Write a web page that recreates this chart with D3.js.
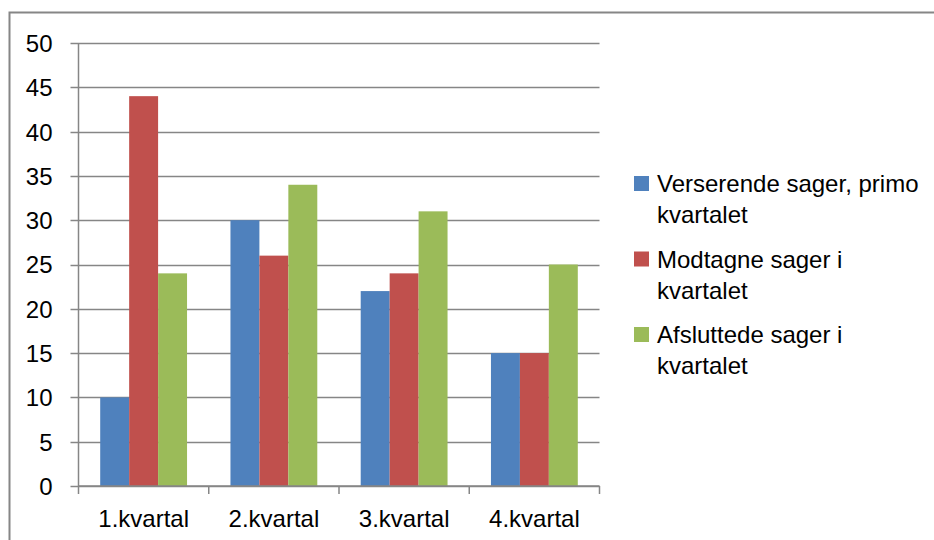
<!DOCTYPE html>
<html>
<head>
<meta charset="utf-8">
<script src="https://cdn.jsdelivr.net/npm/d3@7"></script>
<style>
  body { margin: 0; background: #fff; }
  svg text { font-family: "Liberation Sans", Arial, sans-serif; fill: #000; }
</style>
</head>
<body>
<div id="chart"></div>
<script>
// Data
var categories = ["1.kvartal", "2.kvartal", "3.kvartal", "4.kvartal"];
var seriesNames = ["Verserende sager, primo kvartalet", "Modtagne sager i kvartalet", "Afsluttede sager i kvartalet"];
var legendLines = [["Verserende sager, primo", "kvartalet"], ["Modtagne sager i", "kvartalet"], ["Afsluttede sager i", "kvartalet"]];
var verserende = [10, 30, 22, 15];
var modtagne = [44, 26, 24, 15];
var afsluttede = [24, 34, 31, 25];
var yTicks = [0, 5, 10, 15, 20, 25, 30, 35, 40, 45, 50];
var colors = ["#4F81BD", "#C0504D", "#9BBB59"];

var svgWidth = 934;
var svgHeight = 540;

var margin = { top: 43, left: 78.5, right: 334.5, bottom: 54 };
var chartWidth = svgWidth - margin.left - margin.right;
var chartHeight = svgHeight - margin.top - margin.bottom;

var svg = d3.select("#chart")
    .append("svg")
    .attr("width", svgWidth)
    .attr("height", svgHeight);

// outer chart border
svg.append("rect")
    .attr("x", 9.5)
    .attr("y", 12.5)
    .attr("width", 1000)
    .attr("height", 600)
    .attr("fill", "none")
    .attr("stroke", "#868686")
    .attr("stroke-width", 2);

var chartGroup = svg.append("g")
    .attr("transform", `translate(${margin.left},${margin.top})`);

var data = categories.map(function (c, i) {
    return { cat: c, values: [verserende[i], modtagne[i], afsluttede[i]] };
});

var x0 = d3.scaleBand()
    .domain(categories)
    .range([0, chartWidth])
    .paddingInner(0)
    .paddingOuter(0);

var x1 = d3.scaleBand()
    .domain([0, 1, 2])
    .range([0, x0.bandwidth()])
    .paddingInner(0)
    .paddingOuter(0.75);

var y = d3.scaleLinear()
    .domain([0, 50])
    .range([chartHeight, 0]);

// gridlines
chartGroup.append("g")
    .selectAll("line")
    .data(yTicks)
    .enter()
    .append("line")
    .attr("x1", -8)
    .attr("x2", chartWidth)
    .attr("y1", d => Math.round(y(d)) + 0.5)
    .attr("y2", d => Math.round(y(d)) + 0.5)
    .attr("stroke", "#868686")
    .attr("stroke-width", 1.5);

// y axis
var leftAxis = d3.axisLeft(y).tickValues(yTicks).tickSize(0).tickPadding(26);
var yAxis = chartGroup.append("g").call(leftAxis);
yAxis.select(".domain").remove();
yAxis.selectAll("text").attr("font-size", "24px").attr("dy", "0.35em");

chartGroup.append("line")
    .attr("x1", 0).attr("x2", 0)
    .attr("y1", 0).attr("y2", chartHeight)
    .attr("stroke", "#868686")
    .attr("stroke-width", 1.5);

// bars
var groups = chartGroup.selectAll(".grp")
    .data(data)
    .enter()
    .append("g")
    .attr("class", "grp")
    .attr("transform", d => `translate(${x0(d.cat)},0)`);

groups.selectAll("rect")
    .data(d => d.values.map((v, i) => ({ i: i, v: v })))
    .enter()
    .append("rect")
    .attr("x", d => x1(d.i))
    .attr("width", x1.bandwidth())
    .attr("y", d => y(d.v))
    .attr("height", d => chartHeight - y(d.v))
    .attr("fill", d => colors[d.i]);

// x axis
var bottomAxis = d3.axisBottom(x0).tickSize(0).tickPadding(24);
var xAxis = chartGroup.append("g")
    .attr("transform", `translate(0, ${chartHeight})`)
    .call(bottomAxis);
xAxis.select(".domain").remove();
xAxis.selectAll("text").attr("font-size", "24px");

// category boundary ticks
var bounds = categories.map(c => x0(c)).concat([chartWidth]);
chartGroup.append("g")
    .selectAll("line")
    .data(bounds)
    .enter()
    .append("line")
    .attr("x1", d => d)
    .attr("x2", d => d)
    .attr("y1", chartHeight)
    .attr("y2", chartHeight + 8)
    .attr("stroke", "#868686")
    .attr("stroke-width", 1.5);

chartGroup.append("line")
    .attr("x1", 0).attr("x2", chartWidth)
    .attr("y1", chartHeight).attr("y2", chartHeight)
    .attr("stroke", "#868686")
    .attr("stroke-width", 1.5);

// legend
var legend = svg.append("g")
    .attr("transform", "translate(634,176)");

var items = legend.selectAll("g")
    .data(seriesNames)
    .enter()
    .append("g")
    .attr("transform", (d, i) => `translate(0,${i * 75.5})`);

items.append("rect")
    .attr("width", 15)
    .attr("height", 15)
    .attr("fill", (d, i) => colors[i]);

items.each(function (d, i) {
    var t = d3.select(this).append("text")
        .attr("x", 23)
        .attr("y", 16)
        .attr("font-size", "24px");
    legendLines[i].forEach(function (line, j) {
        t.append("tspan")
            .attr("x", 23)
            .attr("dy", j === 0 ? 0 : 31)
            .text(line);
    });
});
</script>
</body>
</html>
